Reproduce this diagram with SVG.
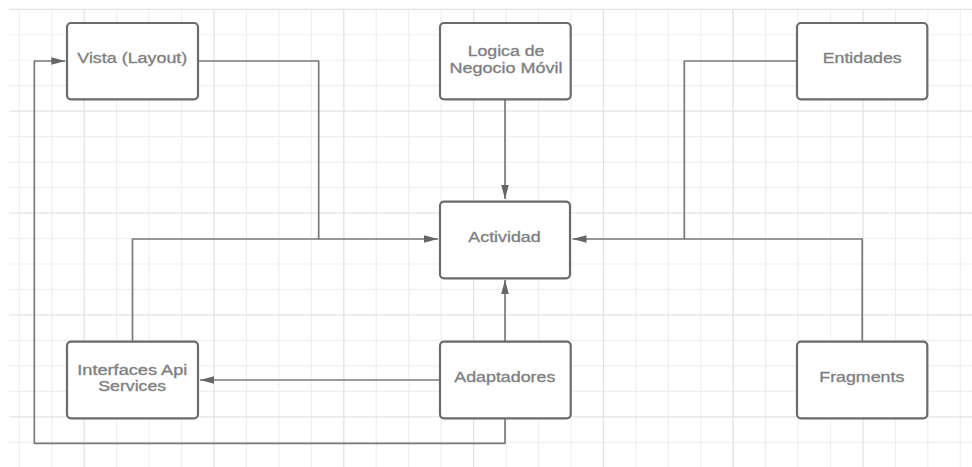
<svg xmlns="http://www.w3.org/2000/svg" width="972" height="467" viewBox="0 0 972 467">
  <style>
    .minor { stroke: #efefef; stroke-width: 1.2; fill: none; }
    .major { stroke: #e3e3e3; stroke-width: 1.3; fill: none; }
    .box { fill: #ffffff; stroke: #6b6b6b; stroke-width: 2.2; }
    .lbl { font-family: "Liberation Sans", Arial, sans-serif; font-size: 14px; fill: #7b7b7b; stroke: #8a8a8a; stroke-width: 0.35; text-anchor: middle; }
    .conn { fill: none; stroke: #7a7a7a; stroke-width: 1.7; stroke-linejoin: round; }
  </style>
  <defs>
    <marker id="arrow" markerUnits="userSpaceOnUse" markerWidth="15" markerHeight="9" refX="14" refY="4.5" orient="auto">
      <path d="M0,0.7 L14,4.5 L0,8.3 Z" fill="#666666"/>
    </marker>
  </defs>
  <rect x="0" y="0" width="972" height="467" fill="#ffffff"/>
  <g id="grid">
    <path class="minor" d="M19.3,9.3V467 M51.75,9.3V467 M116.65,9.3V467 M149.1,9.3V467 M181.55,9.3V467 M246.45,9.3V467 M278.9,9.3V467 M311.35,9.3V467 M376.25,9.3V467 M408.7,9.3V467 M441.15,9.3V467 M506.05,9.3V467 M538.5,9.3V467 M570.95,9.3V467 M635.85,9.3V467 M668.3,9.3V467 M700.75,9.3V467 M765.65,9.3V467 M798.1,9.3V467 M830.55,9.3V467 M895.45,9.3V467 M927.9,9.3V467 M960.35,9.3V467
      M9,34.77H972 M9,60.24H972 M9,85.71H972 M9,136.65H972 M9,162.12H972 M9,187.59H972 M9,238.53H972 M9,264H972 M9,289.47H972 M9,340.41H972 M9,365.88H972 M9,391.35H972 M9,442.29H972"/>
    <path class="major" d="M84.2,9.3V467 M214,9.3V467 M343.8,9.3V467 M473.6,9.3V467 M603.4,9.3V467 M733.2,9.3V467 M863,9.3V467
      M9,9.3H972 M9,111.18H972 M9,213.06H972 M9,314.94H972 M9,416.82H972"/>
  </g>
  <g id="connectors">
    <path class="conn" d="M198,61 H318.7 V239 H438" marker-end="url(#arrow)"/>
    <path class="conn" d="M132.5,341.7 V239 H319"/>
    <path class="conn" d="M505,99.3 V199" marker-end="url(#arrow)"/>
    <path class="conn" d="M797,61 H684.3 V239 H572.5" marker-end="url(#arrow)"/>
    <path class="conn" d="M862.2,341.7 V239 H684.3"/>
    <path class="conn" d="M505,341.7 V280" marker-end="url(#arrow)"/>
    <path class="conn" d="M440,380 H200" marker-end="url(#arrow)"/>
    <path class="conn" d="M505,418.3 V443.3 H34.3 V61 H65.3" marker-end="url(#arrow)"/>
  </g>
  <g id="vista">
    <rect class="box" x="67" y="23" width="131" height="76.3" rx="4"/>
    <text class="lbl" x="132.3" y="63.3" textLength="110" lengthAdjust="spacingAndGlyphs">Vista (Layout)</text>
  </g>
  <g id="logica">
    <rect class="box" x="440" y="23" width="130.7" height="76.3" rx="4"/>
    <text class="lbl" x="506" y="56" textLength="76.7" lengthAdjust="spacingAndGlyphs">Logica de</text>
    <text class="lbl" x="506" y="72.7" textLength="113" lengthAdjust="spacingAndGlyphs">Negocio Móvil</text>
  </g>
  <g id="entidades">
    <rect class="box" x="797" y="23" width="130.3" height="76.3" rx="4"/>
    <text class="lbl" x="862.2" y="63.3" textLength="79" lengthAdjust="spacingAndGlyphs">Entidades</text>
  </g>
  <g id="actividad">
    <rect class="box" x="440" y="201.7" width="130" height="76.6" rx="4"/>
    <text class="lbl" x="504.5" y="242.3" textLength="72.3" lengthAdjust="spacingAndGlyphs">Actividad</text>
  </g>
  <g id="interfaces">
    <rect class="box" x="67" y="341.7" width="131" height="76.6" rx="4"/>
    <text class="lbl" x="132.3" y="375" textLength="110" lengthAdjust="spacingAndGlyphs">Interfaces Api</text>
    <text class="lbl" x="132.2" y="391.3" textLength="67.7" lengthAdjust="spacingAndGlyphs">Services</text>
  </g>
  <g id="adaptadores">
    <rect class="box" x="440" y="341.7" width="130.7" height="76.6" rx="4"/>
    <text class="lbl" x="504.8" y="382.3" textLength="101" lengthAdjust="spacingAndGlyphs">Adaptadores</text>
  </g>
  <g id="fragments">
    <rect class="box" x="797" y="341.7" width="130.3" height="76.6" rx="4"/>
    <text class="lbl" x="861.8" y="382.3" textLength="85" lengthAdjust="spacingAndGlyphs">Fragments</text>
  </g>
</svg>
